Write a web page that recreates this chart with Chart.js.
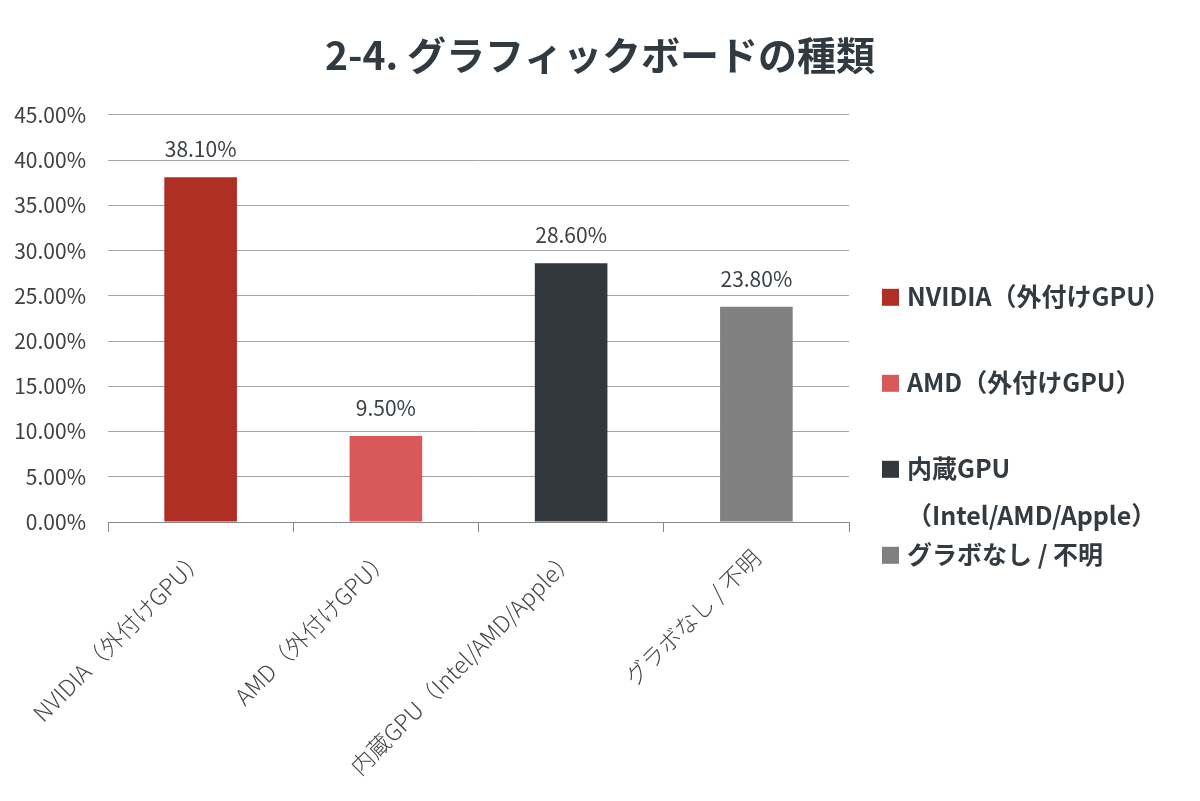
<!DOCTYPE html>
<html lang="ja">
<head>
<meta charset="utf-8">
<title>2-4. グラフィックボードの種類</title>
<script src="https://cdn.jsdelivr.net/npm/chart.js@4.4.1/dist/chart.umd.min.js"></script>
<style>
  html, body { margin: 0; padding: 0; background: #fff; }
  #wrap { width: 1200px; height: 801px; }
</style>
</head>
<body>
<div id="wrap"><canvas id="gpuChart"></canvas></div>
<script>
const categories = ['NVIDIA（外付けGPU）', 'AMD（外付けGPU）', '内蔵GPU（Intel/AMD/Apple）', 'グラボなし / 不明'];
const shares = [38.1, 9.5, 28.6, 23.8];
const barColors = ['#AF2F25', '#D9585A', '#33383C', '#808080'];
const legendLabels = [['NVIDIA（外付けGPU）'], ['AMD（外付けGPU）'], ['内蔵GPU', '（Intel/AMD/Apple）'], ['グラボなし / 不明']];

const FONT = '"Noto Sans CJK JP", "Noto Sans", sans-serif';
Chart.defaults.font.family = FONT;

// value labels above each bar
const valueLabels = {
    id: 'valueLabels',
    afterDatasetsDraw(chart) {
        const ctx = chart.ctx;
        const meta = chart.getDatasetMeta(0);
        ctx.save();
        ctx.font = '21px ' + FONT;
        ctx.fillStyle = '#3c4146';
        ctx.textAlign = 'center';
        ctx.textBaseline = 'middle';
        meta.data.forEach((bar, i) => ctx.fillText(shares[i].toFixed(2) + '%', bar.x, bar.y - 28));
        ctx.restore();
    }
};

// legend on the right, one item per category (third one wraps)
const sideLegend = {
    id: 'sideLegend',
    afterDraw(chart) {
        const { ctx, chartArea } = chart;
        const x = chartArea.right + 33;
        let y = chartArea.top + 182;
        ctx.save();
        ctx.font = 'bold 25px ' + FONT;
        ctx.textBaseline = 'middle';
        ctx.textAlign = 'left';
        legendLabels.forEach((lines, i) => {
            ctx.fillStyle = barColors[i];
            ctx.fillRect(x, y - 8, 17, 17);
            ctx.fillStyle = '#333a40';
            lines.forEach((line, j) => ctx.fillText(line, x + 25, y + j * 47));
            y += 86;
        });
        ctx.restore();
    }
};

new Chart(document.getElementById('gpuChart').getContext('2d'), {
    type: 'bar',
    data: {
        labels: categories,
        datasets: [{
            data: shares,
            backgroundColor: barColors,
            borderWidth: 0,
            barPercentage: 0.8,
            categoryPercentage: 0.49
        }]
    },
    options: {
        responsive: true,
        maintainAspectRatio: false,
        animation: false,
        scales: {
            y: {
                min: 0,
                max: 45,
                ticks: {
                    stepSize: 5,
                    padding: 22,
                    color: '#404040',
                    font: { size: 21 },
                    callback: v => v.toFixed(2) + '%'
                },
                grid: { color: '#a6a6a6', drawTicks: false },
                border: { display: false },
                afterFit: scale => { scale.width = 108; }
            },
            // empty right-hand axis only reserves room for the legend
            legendSpace: {
                position: 'right',
                display: true,
                ticks: { display: false },
                grid: { display: false },
                border: { display: false },
                afterFit: scale => { scale.width = 351; }
            },
            x: {
                ticks: {
                    maxRotation: 45,
                    minRotation: 45,
                    padding: 12,
                    color: '#444',
                    font: { size: 23, weight: 300 }
                },
                grid: { offset: true, drawOnChartArea: false, tickLength: 10, color: '#888' },
                border: { color: '#888' },
                afterFit: scale => { scale.height = 279; }
            }
        },
        plugins: {
            legend: { display: false },
            tooltip: { enabled: false },
            title: {
                display: true,
                text: '2-4. グラフィックボードの種類',
                color: '#323a41',
                font: { size: 39, weight: 'bold' },
                padding: { top: 32, bottom: 36 }
            }
        }
    },
    plugins: [valueLabels, sideLegend]
});
</script>
</body>
</html>
